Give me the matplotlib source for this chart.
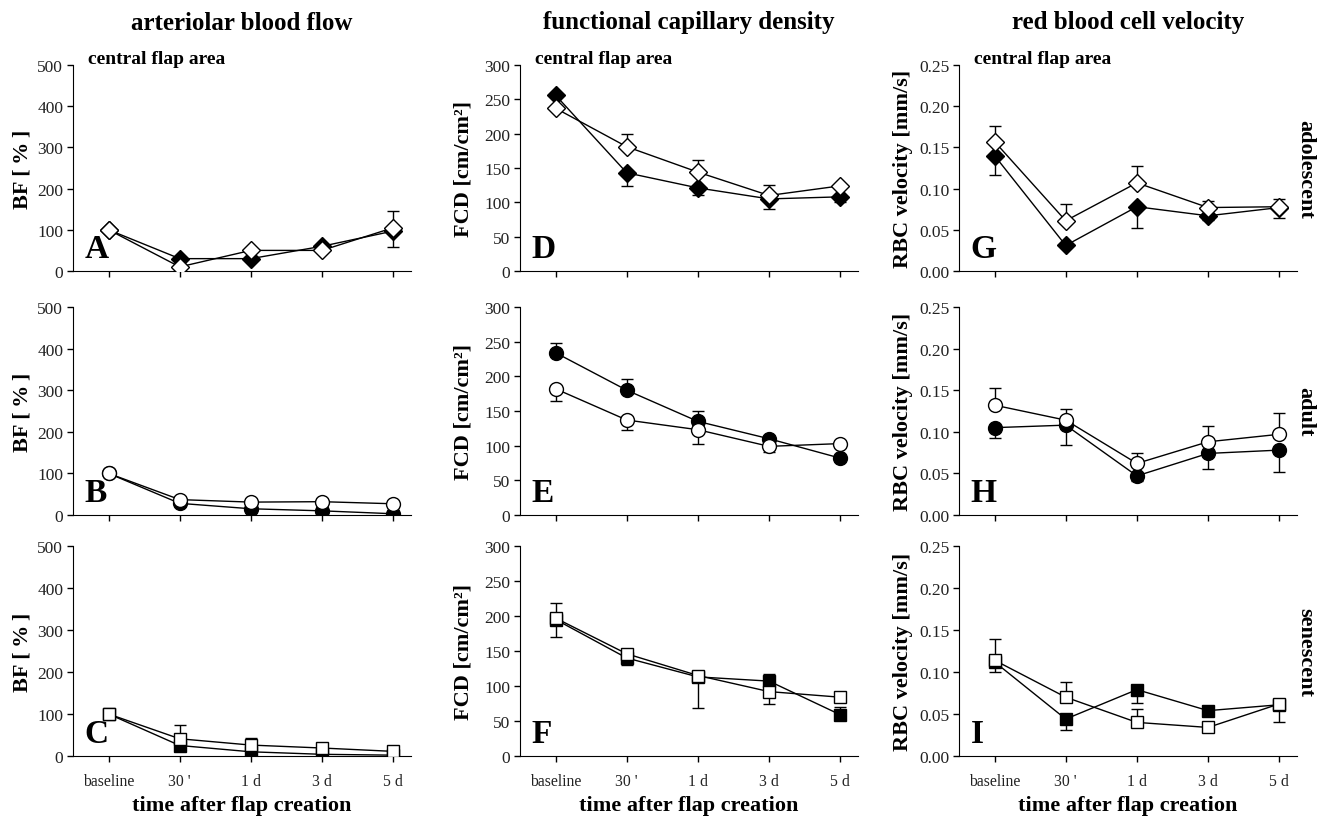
import numpy as np
import matplotlib
matplotlib.use('Agg')
import matplotlib.pyplot as plt
from matplotlib.ticker import FormatStrFormatter

plt.rcParams['font.family'] = 'Liberation Serif'

# x categories
times = ['baseline', "30 '", '1 d', '3 d', '5 d']

# arteriolar blood flow [%]  (f = filled marker, o = open marker)
bf_adol_f = [100, 30, 30, 60, 97]
bf_adol_o = [100, 10, 50, 50, 105]
bf_adult_f = [100, 28, 15, 10, 3]
bf_adult_o = [100, 37, 31, 32, 27]
bf_sen_f = [100, 25, 10, 4, 2]
bf_sen_o = [100, 41, 26, 19, 11]

# functional capillary density [cm/cm2]
fcd_adol_f = [256, 143, 121, 105, 108]
fcd_adol_o = [237, 181, 144, 110, 124]
fcd_adult_f = [234, 180, 135, 110, 82]
fcd_adult_o = [182, 137, 123, 99, 103]
fcd_sen_f = [195, 140, 113, 107, 59]
fcd_sen_o = [197, 146, 115, 92, 84]

# red blood cell velocity [mm/s]
rbc_adol_f = [0.140, 0.031, 0.078, 0.067, 0.077]
rbc_adol_o = [0.157, 0.061, 0.107, 0.077, 0.078]
rbc_adult_f = [0.105, 0.108, 0.047, 0.074, 0.078]
rbc_adult_o = [0.132, 0.114, 0.062, 0.088, 0.097]
rbc_sen_f = [0.112, 0.044, 0.079, 0.054, 0.061]
rbc_sen_o = [0.114, 0.070, 0.040, 0.034, 0.062]

# error bars (lower, upper) per series
bf_adol_f_lo = [0, 0, 0, 0, 39]
bf_adol_f_hi = [0, 0, 0, 0, 0]
bf_adol_o_lo = [0, 0, 0, 0, 0]
bf_adol_o_hi = [0, 0, 0, 0, 40]
bf_adult_f_lo = [0, 0, 0, 0, 0]
bf_adult_f_hi = [0, 0, 0, 0, 0]
bf_adult_o_lo = [0, 0, 0, 0, 0]
bf_adult_o_hi = [0, 0, 0, 0, 0]
bf_sen_f_lo = [0, 0, 0, 0, 0]
bf_sen_f_hi = [0, 0, 0, 0, 0]
bf_sen_o_lo = [0, 0, 0, 0, 0]
bf_sen_o_hi = [0, 34, 16, 0, 0]

fcd_adol_f_lo = [0, 19, 11, 14, 7]
fcd_adol_f_hi = [0, 0, 0, 0, 0]
fcd_adol_o_lo = [0, 0, 0, 0, 0]
fcd_adol_o_hi = [0, 19, 18, 15, 0]
fcd_adult_f_lo = [0, 0, 0, 0, 0]
fcd_adult_f_hi = [14, 16, 15, 0, 0]
fcd_adult_o_lo = [17, 15, 21, 8, 0]
fcd_adult_o_hi = [0, 0, 0, 0, 0]
fcd_sen_f_lo = [25, 10, 0, 0, 0]
fcd_sen_f_hi = [0, 0, 0, 10, 11]
fcd_sen_o_lo = [0, 0, 47, 17, 0]
fcd_sen_o_hi = [21, 0, 0, 0, 0]

rbc_adol_f_lo = [0.024, 0, 0.026, 0.005, 0.013]
rbc_adol_f_hi = [0, 0, 0, 0, 0]
rbc_adol_o_lo = [0, 0, 0, 0, 0]
rbc_adol_o_hi = [0.019, 0.020, 0.020, 0.008, 0.009]
rbc_adult_f_lo = [0.013, 0.024, 0.006, 0.019, 0.026]
rbc_adult_f_hi = [0, 0, 0, 0, 0]
rbc_adult_o_lo = [0, 0, 0, 0, 0]
rbc_adult_o_hi = [0.021, 0.014, 0.013, 0.019, 0.025]
rbc_sen_f_lo = [0.012, 0.013, 0.016, 0, 0]
rbc_sen_f_hi = [0, 0, 0, 0, 0]
rbc_sen_o_lo = [0, 0, 0, 0, 0.021]
rbc_sen_o_hi = [0.025, 0.018, 0.016, 0, 0]

col_titles = ['arteriolar blood flow', 'functional capillary density', 'red blood cell velocity']
ylabels = ['BF [\u2009%\u2009]', 'FCD [cm/cm\u00b2]', 'RBC velocity [mm/s]']
row_names = ['adolescent', 'adult', 'senescent']
letters = [['A', 'D', 'G'], ['B', 'E', 'H'], ['C', 'F', 'I']]
markers = ['D', 'o', 's']
msizes = [9, 10, 8.5]

panels = [
    [(bf_adol_f, bf_adol_f_lo, bf_adol_f_hi, bf_adol_o, bf_adol_o_lo, bf_adol_o_hi),
     (fcd_adol_f, fcd_adol_f_lo, fcd_adol_f_hi, fcd_adol_o, fcd_adol_o_lo, fcd_adol_o_hi),
     (rbc_adol_f, rbc_adol_f_lo, rbc_adol_f_hi, rbc_adol_o, rbc_adol_o_lo, rbc_adol_o_hi)],
    [(bf_adult_f, bf_adult_f_lo, bf_adult_f_hi, bf_adult_o, bf_adult_o_lo, bf_adult_o_hi),
     (fcd_adult_f, fcd_adult_f_lo, fcd_adult_f_hi, fcd_adult_o, fcd_adult_o_lo, fcd_adult_o_hi),
     (rbc_adult_f, rbc_adult_f_lo, rbc_adult_f_hi, rbc_adult_o, rbc_adult_o_lo, rbc_adult_o_hi)],
    [(bf_sen_f, bf_sen_f_lo, bf_sen_f_hi, bf_sen_o, bf_sen_o_lo, bf_sen_o_hi),
     (fcd_sen_f, fcd_sen_f_lo, fcd_sen_f_hi, fcd_sen_o, fcd_sen_o_lo, fcd_sen_o_hi),
     (rbc_sen_f, rbc_sen_f_lo, rbc_sen_f_hi, rbc_sen_o, rbc_sen_o_lo, rbc_sen_o_hi)],
]

ymax = [500, 300, 0.25]
ystep = [100, 50, 0.05]

W, H = 1325, 820
fig = plt.figure(figsize=(W / 100, H / 100), dpi=100)

col_left = [73, 520, 959]
ax_w = 338
row_top = [66, 308, 547]
row_bot = [272, 516, 757]
ylab_x = [-0.121, -0.139, -0.136]

x = np.arange(len(times))


def draw_err(ax, y, lo, hi):
    y = np.array(y)
    lo = np.array(lo)
    hi = np.array(hi)
    keep = (lo > 0) | (hi > 0)
    if keep.any():
        ax.errorbar(x[keep], y[keep], yerr=[lo[keep], hi[keep]], fmt='none',
                    ecolor='black', elinewidth=1, capsize=4, capthick=1, zorder=2)


for r in range(3):
    for c in range(3):
        ax = fig.add_axes([col_left[c] / W, 1 - row_bot[r] / H,
                           ax_w / W, (row_bot[r] - row_top[r]) / H])
        yf, flo, fhi, yo, olo, ohi = panels[r][c]
        draw_err(ax, yf, flo, fhi)
        draw_err(ax, yo, olo, ohi)
        ax.plot(x, yf, color='black', lw=1, marker=markers[r], ms=msizes[r],
                mfc='black', mec='black', mew=1, zorder=3)
        ax.plot(x, yo, color='black', lw=1, marker=markers[r], ms=msizes[r],
                mfc='white', mec='black', mew=1, zorder=4)

        ax.set_xlim(-0.5, 4.25)
        ax.set_ylim(0, ymax[c])
        ax.set_yticks(np.arange(0, ymax[c] + ystep[c] / 2, ystep[c]))
        if c == 2:
            ax.yaxis.set_major_formatter(FormatStrFormatter('%.2f'))
        ax.set_xticks(x)
        ax.spines['top'].set_visible(False)
        ax.spines['right'].set_visible(False)
        ax.tick_params(direction='out', length=4, width=1, labelsize=12.5,
                       colors='black', labelcolor='#222222', pad=3)
        ax.tick_params(axis='x', pad=8, labelsize=11.3)
        if r == 2:
            ax.set_xticklabels(times)
            ax.set_xlabel('time after flap creation', fontsize=16, fontweight='bold', va='center')
            ax.xaxis.set_label_coords(0.5, -(806 - row_bot[r]) / (row_bot[r] - row_top[r]))
        else:
            ax.set_xticklabels([])
        ax.set_ylabel(ylabels[c], fontsize=16, fontweight='bold')
        ax.yaxis.set_label_coords(ylab_x[c], 0.5)

        ax.text(0.035, 0.035, letters[r][c], transform=ax.transAxes,
                fontsize=24, fontweight='bold', ha='left', va='bottom')

        if r == 0:
            ax.text(0.045, 1.03, 'central flap area', transform=ax.transAxes,
                    fontsize=14, fontweight='bold', ha='left', va='center')
            fig.text((col_left[c] + ax_w / 2) / W, 1 - 23 / H, col_titles[c],
                     fontsize=18, fontweight='bold', ha='center', va='center')

    fig.text(1305 / W, 1 - (row_top[r] + row_bot[r]) / 2 / H, row_names[r],
             rotation=270, fontsize=16, fontweight='bold', ha='center', va='center')

fig.savefig('out.png', dpi=100)
